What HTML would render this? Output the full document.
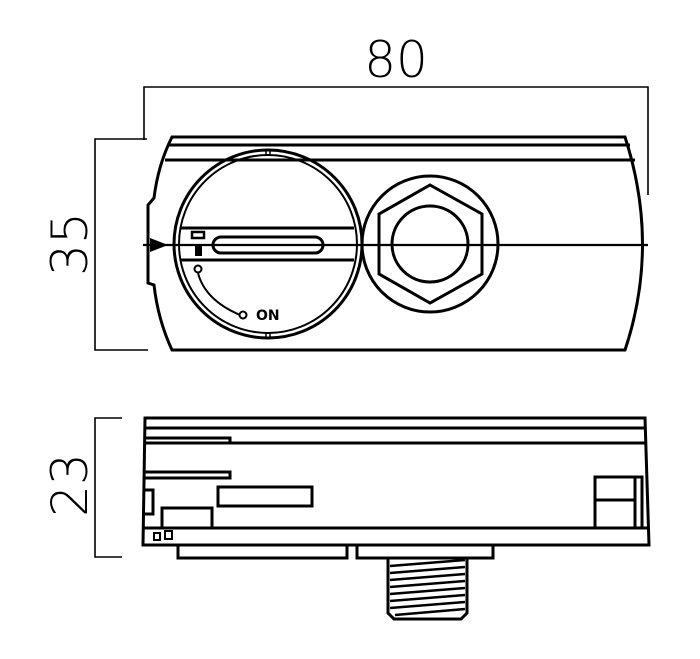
<!DOCTYPE html>
<html><head><meta charset="utf-8"><style>
html,body{margin:0;padding:0;background:#fff;width:700px;height:659px;overflow:hidden}
svg{display:block}
text{font-family:"DejaVu Sans","Liberation Sans",sans-serif;font-weight:300;fill:#000}
</style></head><body>
<svg width="700" height="659" viewBox="0 0 700 659" xmlns="http://www.w3.org/2000/svg" fill="none" stroke="#000" stroke-linecap="butt">
<!-- Dimensions -->
<text x="396" y="77" font-size="50" text-anchor="middle" stroke="none">80</text>
<path d="M144 140 V87 H648 V195" stroke-width="1.6"/>
<path d="M147 139 H95 V350 H148" stroke-width="1.6"/>
<text transform="translate(87,244) rotate(-90)" font-size="50" text-anchor="middle" stroke="none">35</text>
<path d="M122 418 H95 V557 H122" stroke-width="1.6"/>
<text transform="translate(87,485) rotate(-90)" font-size="50" text-anchor="middle" stroke="none">23</text>

<!-- Top view body -->
<g stroke-width="3">
<path d="M172 137 H625 Q660 245 625 350 H172 Q158 320 154 285 L148 283 L148 205 L154 198 Q158 165 172 137 Z"/>
<line x1="168" y1="145" x2="630" y2="145"/>
<line x1="165" y1="160" x2="635" y2="160"/>
<line x1="143" y1="245" x2="648" y2="245" stroke-width="2.2"/>
</g>
<path d="M150 238 L168 245 L150 252 Z" fill="#000" stroke="none"/>
<!-- left circle -->
<circle cx="268" cy="244" r="94" stroke-width="3"/>
<circle cx="268" cy="244" r="89" stroke-width="2"/>
<line x1="266" y1="149" x2="266" y2="155" stroke-width="1.5"/>
<line x1="270" y1="149" x2="270" y2="155" stroke-width="1.5"/>
<line x1="266" y1="333" x2="266" y2="339" stroke-width="1.5"/>
<line x1="270" y1="333" x2="270" y2="339" stroke-width="1.5"/>
<line x1="180" y1="228" x2="354" y2="228" stroke-width="3"/>
<line x1="180" y1="260" x2="354" y2="260" stroke-width="3"/>
<rect x="213" y="237" width="110" height="16" rx="8" stroke-width="3"/>
<rect x="192" y="232" width="12" height="6" stroke-width="2.5"/>
<rect x="195" y="244" width="7" height="12" fill="#000" stroke="none"/>
<circle cx="198" cy="269" r="3.5" stroke-width="2"/>
<path d="M198 273 Q205 300 240 315" stroke-width="2"/>
<circle cx="243" cy="315" r="3.5" stroke-width="2"/>
<text x="256" y="320" font-size="14" font-weight="bold" stroke="none" style="font-weight:700">ON</text>
<!-- right circle nut -->
<circle cx="430" cy="244" r="68" stroke-width="3"/>
<polygon points="430,185 482,214 482,274 430,303 379,274 379,214" stroke-width="3"/>
<circle cx="430" cy="244" r="38" stroke-width="3"/>

<!-- Side view -->
<g stroke-width="3">
<path d="M145 418 H645 L649 545 H143 L145 418 Z"/>
<line x1="145" y1="428" x2="645" y2="428"/>
<line x1="145" y1="443" x2="646" y2="443"/>
<path d="M145 438 H230 V443"/>
<path d="M145 472 H230 V478 H145"/>
<rect x="218" y="487" width="94" height="19"/>
<rect x="162" y="508" width="50" height="20"/>
<path d="M145 490 H153 V514 H145"/>
<line x1="143" y1="528" x2="648" y2="528"/>
<rect x="154" y="533" width="6" height="7" stroke-width="2"/>
<rect x="165" y="531" width="7" height="8" stroke-width="2"/>
<rect x="595" y="477" width="47" height="51"/>
<path d="M595 500 H635 V477 M635 500 V528"/>
<rect x="178" y="545" width="169" height="13"/>
<rect x="357" y="545" width="136" height="13"/>
<path d="M388 558 V613 L394 619 H461 L467 613 V558"/>
</g>
<g stroke-width="2.4">
<line x1="390" y1="566" x2="465" y2="560"/>
<line x1="390" y1="573" x2="465" y2="567"/>
<line x1="390" y1="580" x2="465" y2="574"/>
<line x1="390" y1="587" x2="465" y2="581"/>
<line x1="390" y1="594" x2="465" y2="588"/>
<line x1="390" y1="601" x2="465" y2="595"/>
<line x1="390" y1="608" x2="465" y2="602"/>
<line x1="395" y1="615" x2="465" y2="609"/>
</g>
</svg>
</body></html>
